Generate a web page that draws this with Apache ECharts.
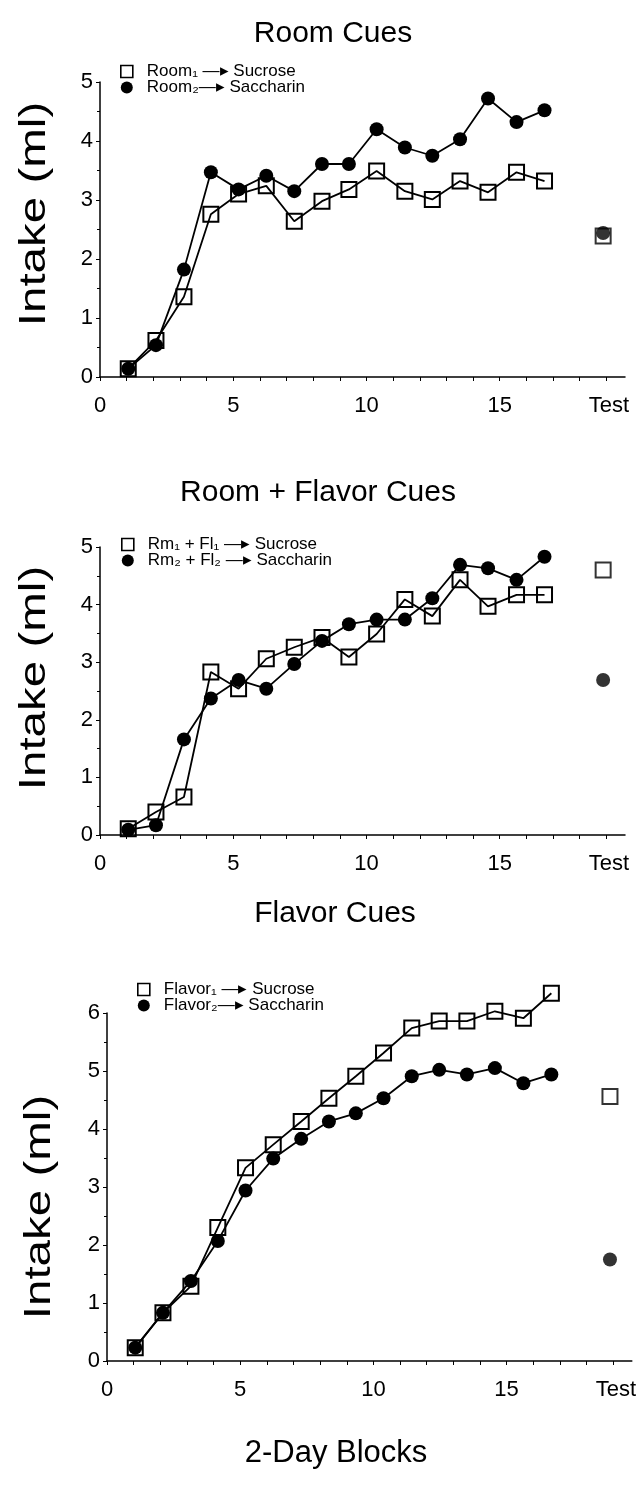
<!DOCTYPE html>
<html><head><meta charset="utf-8">
<script src="https://cdn.jsdelivr.net/npm/echarts@6/dist/echarts.min.js"></script>
<style>html,body{margin:0;padding:0;background:#fff}#c{width:639px;height:1486px}</style>
</head><body><div id="c"></div>
<script>
// x positions of the 16 training blocks and the test point
const blockPos = [1.06, 2.1, 3.15, 4.16, 5.2, 6.24, 7.29, 8.33, 9.34, 10.38, 11.44, 12.47, 13.51, 14.56, 15.63, 16.68];
const testPos = 18.88;
const xLabelValues = [0, 5, 10, 15, 19.1];
const xLabelTexts = ['0', '5', '10', '15', 'Test'];
const xTickValues = [0,1,2,3,4,5,6,7,8,9,10,11,12,13,14,15,16,17,18,19];

const panelTitles = ['Room Cues', 'Room + Flavor Cues', 'Flavor Cues'];
const xAxisTitle = '2-Day Blocks';
const yAxisTitle = 'Intake (ml)';
const yMax = [5, 5, 6];

const legendSucrose = ['Room\u2081 \u2014\u25B8 Sucrose', 'Rm\u2081 + Fl\u2081 \u2014\u25B8 Sucrose', 'Flavor\u2081 \u2014\u25B8 Sucrose'];
const legendSaccharin = ['Room\u2082\u2014\u25B8 Saccharin', 'Rm\u2082 + Fl\u2082 \u2014\u25B8 Saccharin', 'Flavor\u2082\u2014\u25B8 Saccharin'];

// Room cues
const roomSucrose   = [0.14, 0.62, 1.36, 2.76, 3.10, 3.24, 2.64, 2.98, 3.18, 3.49, 3.15, 3.01, 3.32, 3.13, 3.47, 3.32];
const roomSaccharin = [0.14, 0.54, 1.82, 3.47, 3.18, 3.41, 3.15, 3.61, 3.61, 4.20, 3.89, 3.75, 4.03, 4.72, 4.32, 4.52];
const roomTest = [2.39, 2.44]; // [sucrose, saccharin]
// Room + flavor cues
const rfSucrose   = [0.11, 0.40, 0.66, 2.83, 2.54, 3.06, 3.26, 3.43, 3.09, 3.49, 4.09, 3.80, 4.43, 3.97, 4.17, 4.17];
const rfSaccharin = [0.09, 0.17, 1.66, 2.37, 2.69, 2.54, 2.97, 3.37, 3.66, 3.74, 3.74, 4.11, 4.69, 4.63, 4.43, 4.83];
const rfTest = [4.60, 2.69];
// Flavor cues
const flSucrose   = [0.23, 0.83, 1.29, 2.30, 3.33, 3.73, 4.13, 4.53, 4.91, 5.31, 5.74, 5.86, 5.86, 6.03, 5.91, 6.34];
const flSaccharin = [0.23, 0.83, 1.38, 2.07, 2.94, 3.49, 3.83, 4.13, 4.27, 4.53, 4.91, 5.02, 4.94, 5.05, 4.79, 4.94];
const flTest = [4.56, 1.75];

const sucroseSets = [roomSucrose, rfSucrose, flSucrose];
const saccharinSets = [roomSaccharin, rfSaccharin, flSaccharin];
const testSets = [roomTest, rfTest, flTest];

const FONT = '"Liberation Sans", Arial, Helvetica, sans-serif';
const grids = [
  {left: 100, top: 82, width: 525, height: 295},
  {left: 100, top: 547, width: 525, height: 288},
  {left: 107, top: 1013, width: 525, height: 348}
];
const titleTops = [14, 473, 894];
const titleCenters = [328, 313, 330];
const legendPos = [{left: 120, top: 63}, {left: 121, top: 536}, {left: 137, top: 981}];
const yTitlePos = [{x: 35, y: 214}, {x: 35, y: 678}, {x: 40, y: 1207}];

const pairs = (ys) => ys.map((y, i) => [blockPos[i], y]);

const option = {
  backgroundColor: '#fff',
  animation: false,
  title: panelTitles.map((t, i) => ({
    text: t, left: titleCenters[i], top: titleTops[i], textAlign: 'center',
    textStyle: {fontFamily: FONT, fontSize: 30, fontWeight: 'normal', color: '#000'}
  })).concat([{
    text: xAxisTitle, left: 331, top: 1433, textAlign: 'center',
    textStyle: {fontFamily: FONT, fontSize: 31, fontWeight: 'normal', color: '#000'}
  }]),
  graphic: yTitlePos.map(p => ({
    type: 'text', x: p.x, y: p.y, rotation: Math.PI / 2, scaleX: 1.32, scaleY: 1,
    style: {text: yAxisTitle, font: '36px ' + FONT, fill: '#000',
            align: 'center', verticalAlign: 'middle', textAlign: 'center', textVerticalAlign: 'middle'}
  })),
  legend: [0,1,2].map(i => ({
    orient: 'vertical', left: legendPos[i].left, top: legendPos[i].top,
    itemWidth: 12, itemHeight: 12, itemGap: -1, selectedMode: false, padding: 0,
    textStyle: {fontFamily: FONT, fontSize: 17, lineHeight: 14, color: '#000', padding: [0, 0, 0, 9]},
    data: [
      {name: legendSucrose[i], icon: 'rect', itemStyle: {color: '#fff', borderColor: '#000', borderWidth: 1.6}},
      {name: legendSaccharin[i], icon: 'circle', itemStyle: {color: '#000', borderWidth: 0}}
    ]
  })),
  grid: grids,
  xAxis: [0,1,2].map(i => ({
    type: 'value', gridIndex: i, min: 0, max: 19.7,
    splitLine: {show: false},
    axisLine: {show: true, onZero: false, lineStyle: {color: '#000', width: 1.5}},
    axisTick: {show: true, customValues: xTickValues, length: 4, lineStyle: {color: '#000', width: 1}},
    axisLabel: {
      customValues: xLabelValues, color: '#000', fontFamily: FONT, fontSize: 22, margin: 18,
      formatter: v => xLabelTexts[xLabelValues.indexOf(v)] ?? ''
    }
  })),
  yAxis: [0,1,2].map(i => ({
    type: 'value', gridIndex: i, min: 0, max: yMax[i], interval: 1,
    splitLine: {show: false},
    axisLine: {show: true, lineStyle: {color: '#000', width: 1.5}},
    axisTick: {show: true, length: 4, lineStyle: {color: '#000', width: 1}},
    minorTick: {show: true, splitNumber: 2, length: 3, lineStyle: {color: '#000', width: 1}},
    axisLabel: {color: '#000', fontFamily: FONT, fontSize: 22, margin: 7}
  })),
  series: []
};

for (let i = 0; i < 3; i++) {
  option.series.push({
    name: legendSucrose[i], type: 'line', xAxisIndex: i, yAxisIndex: i, clip: false,
    data: pairs(sucroseSets[i]), symbol: 'rect', symbolSize: 15,
    lineStyle: {color: '#000', width: 1.8},
    itemStyle: {color: 'rgba(255,255,255,0)', borderColor: '#000', borderWidth: 2},
    z: 2
  });
  option.series.push({
    name: legendSaccharin[i], type: 'line', xAxisIndex: i, yAxisIndex: i, clip: false,
    data: pairs(saccharinSets[i]), symbol: 'circle', symbolSize: 14,
    lineStyle: {color: '#000', width: 1.8},
    itemStyle: {color: '#000', borderWidth: 0},
    z: 3
  });
  option.series.push({
    type: 'scatter', xAxisIndex: i, yAxisIndex: i, clip: false,
    data: [[testPos, testSets[i][0]]], symbol: 'rect', symbolSize: 15,
    itemStyle: {color: 'rgba(255,255,255,0)', borderColor: '#000', borderWidth: 2}, z: 2
  });
  option.series.push({
    type: 'scatter', xAxisIndex: i, yAxisIndex: i, clip: false,
    data: [[testPos, testSets[i][1]]], symbol: 'circle', symbolSize: 14,
    itemStyle: {color: '#000'}, z: 3
  });
}

const chart = echarts.init(document.getElementById('c'), null, {renderer: 'canvas'});
chart.setOption(option);
</script></body></html>
